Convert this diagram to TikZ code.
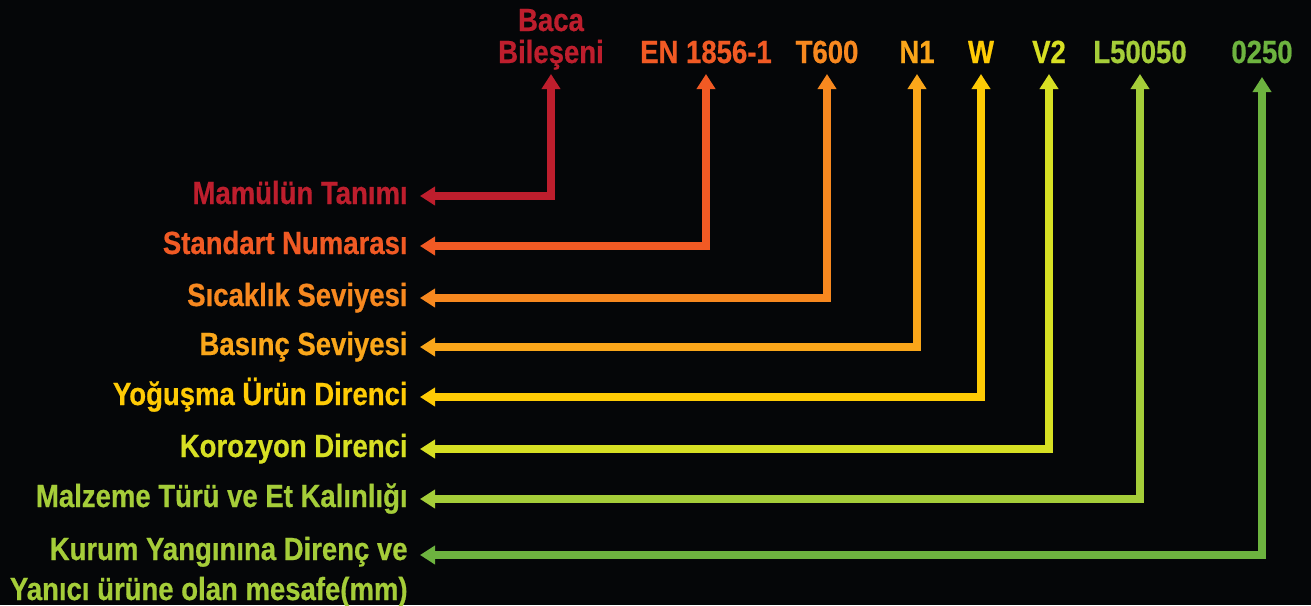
\documentclass[tikz,border=0pt]{standalone}
\usepackage{fontspec}
\setmainfont{Liberation Sans}[FakeStretch=0.86]
\newfontfamily\heavy{Liberation Sans Bold}[FakeStretch=0.86, FakeBold=0.6]
\usetikzlibrary{arrows.meta}

\definecolor{cBaca}{HTML}{BE1E2D}
\definecolor{cEN}{HTML}{F15A24}
\definecolor{cT}{HTML}{F7881F}
\definecolor{cN}{HTML}{FAA61A}
\definecolor{cW}{HTML}{FFCB05}
\definecolor{cV}{HTML}{D7DF23}
\definecolor{cL}{HTML}{A5CD39}
\definecolor{cMes}{HTML}{6DB33F}
\definecolor{bg}{HTML}{050608}

\tikzset{
  code/.style={anchor=base, inner sep=0pt, font=\heavy\fontsize{16}{16}\selectfont},
  desc/.style={anchor=base east, inner sep=0pt, align=right, font=\heavy\fontsize{16}{20}\selectfont},
  link/.style={line width=4pt, line join=miter,
    {Triangle[width=9pt,length=7.5pt]}-{Triangle[width=9pt,length=7.5pt]}}
}

\begin{document}
\begin{tikzpicture}[x=0.5pt,y=-0.5pt]
\fill[bg] (0,0) rectangle (1311,605);
\useasboundingbox (0,0) rectangle (1311,605);

% codes on top
\node[code, cBaca, align=center] (baca) at (551,63) {Baca\\Bileşeni};
\node[code, cEN] (en) at (706,63) {EN 1856-1};
\node[code, cT] (temp) at (827,63) {T600};
\node[code, cN] (pres) at (917,63) {N1};
\node[code, cW] (cond) at (981,63) {W};
\node[code, cV] (corr) at (1049,63) {V2};
\node[code, cL] (mat) at (1140,63) {L50050};
\node[code, cMes] (dist) at (1262,63) {0250};

% descriptions
\node[desc, cBaca] (mamul) at (408,204) {Mamülün Tanımı};
\node[desc, cEN] (std) at (408,254) {Standart Numarası};
\node[desc, cT] (sic) at (408,306) {Sıcaklık Seviyesi};
\node[desc, cN] (bas) at (408,355) {Basınç Seviyesi};
\node[desc, cW] (yog) at (408,405) {Yoğuşma Ürün Direnci};
\node[desc, cV] (kor) at (408,457) {Korozyon Direnci};
\node[desc, cL] (malz) at (408,507) {Malzeme Türü ve Et Kalınlığı};
\node[desc, cL] (kurum) at (408,600) {Kurum Yangınına Direnç ve\\Yanıcı ürüne olan mesafe(mm)};

% connectors
\draw[link, cBaca] ([xshift=6pt,yshift=4pt]mamul.base east) -| ([yshift=-5.5pt]baca.base);
\draw[link, cEN] ([xshift=6pt,yshift=4pt]std.base east) -| ([yshift=-5.5pt]en.base);
\draw[link, cT] ([xshift=6pt,yshift=4pt]sic.base east) -| ([yshift=-5.5pt]temp.base);
\draw[link, cN] ([xshift=6pt,yshift=4pt]bas.base east) -| ([yshift=-5.5pt]pres.base);
\draw[link, cW] ([xshift=6pt,yshift=4pt]yog.base east) -| ([yshift=-5.5pt]cond.base);
\draw[link, cV] ([xshift=6pt,yshift=4pt]kor.base east) -| ([yshift=-5.5pt]corr.base);
\draw[link, cL] ([xshift=6pt,yshift=4pt]malz.base east) -| ([yshift=-5.5pt]mat.base);
\draw[link, cMes] ([xshift=6pt,yshift=22.5pt]kurum.base east) -| ([yshift=-7pt]dist.base);
\end{tikzpicture}
\end{document}
